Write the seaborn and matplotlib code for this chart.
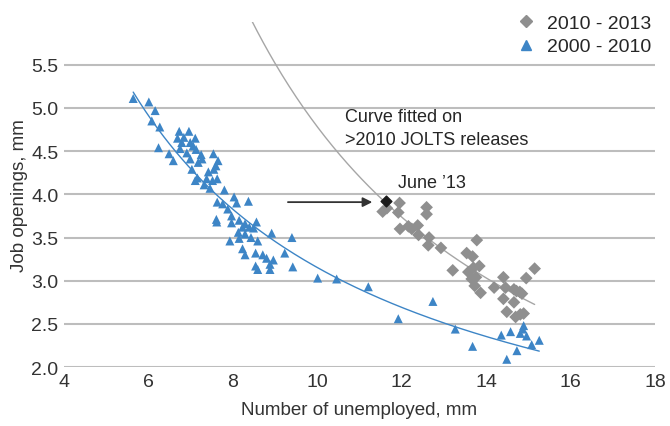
import numpy as np
import pandas as pd
import seaborn as sns
import matplotlib.pyplot as plt
from matplotlib.lines import Line2D

# Dados (desemprego x vagas, milhões)
blue_x = [5.64, 6.01, 6.16, 6.08, 6.27, 6.24, 6.49, 6.59, 6.73, 6.96, 6.69, 6.84, 7.11, 6.79,
          6.99, 7.06, 6.75, 6.91, 7.13, 6.99, 7.25, 7.27, 7.18, 7.54, 7.65, 7.60, 7.55, 7.42,
          7.03, 7.16, 7.11, 7.38, 7.52, 7.63, 7.32, 7.46, 7.80, 8.03, 7.63, 7.76, 8.09, 8.37,
          7.88, 7.97, 7.62, 7.61, 8.15, 7.97, 8.29, 8.56, 8.23, 8.39, 8.49, 8.13, 8.29, 8.15,
          8.43, 8.59, 8.92, 9.40, 7.93, 8.23, 8.29, 8.54, 8.71, 8.80, 8.96, 8.88, 9.23, 8.54,
          8.59, 8.88, 9.42, 10.01, 10.46, 11.21, 11.92, 12.74, 13.27, 13.68, 14.36, 14.49,
          14.58, 14.73, 14.81, 14.89, 14.87, 14.96, 15.08, 15.26]
blue_y = [5.11, 5.07, 4.97, 4.85, 4.78, 4.54, 4.47, 4.39, 4.73, 4.73, 4.65, 4.66, 4.65, 4.60,
          4.60, 4.56, 4.53, 4.48, 4.52, 4.41, 4.46, 4.41, 4.37, 4.47, 4.39, 4.33, 4.29, 4.26,
          4.29, 4.19, 4.16, 4.18, 4.16, 4.18, 4.11, 4.07, 4.05, 3.97, 3.91, 3.89, 3.90, 3.92,
          3.83, 3.75, 3.68, 3.71, 3.70, 3.67, 3.66, 3.68, 3.62, 3.62, 3.61, 3.56, 3.54, 3.49,
          3.50, 3.46, 3.55, 3.50, 3.46, 3.37, 3.30, 3.32, 3.30, 3.26, 3.24, 3.19, 3.32, 3.17,
          3.13, 3.13, 3.16, 3.03, 3.02, 2.93, 2.56, 2.76, 2.44, 2.24, 2.37, 2.09,
          2.41, 2.19, 2.39, 2.48, 2.44, 2.36, 2.26, 2.31]

gray_x = [11.95, 11.55, 11.65, 11.92, 11.96, 12.16, 12.24, 12.38, 12.40, 12.59, 12.59, 12.65,
          12.63, 12.93, 13.21, 13.54, 13.68, 13.78, 13.58, 13.84, 13.70, 13.66, 13.76, 13.73,
          13.87, 14.19, 14.41, 14.46, 14.41, 14.66, 14.72, 14.80, 14.85, 14.66, 14.49, 14.70,
          14.81, 14.89, 14.95, 15.15]
gray_y = [3.90, 3.80, 3.84, 3.79, 3.60, 3.63, 3.60, 3.64, 3.53, 3.85, 3.77, 3.50,
          3.41, 3.38, 3.12, 3.32, 3.28, 3.47, 3.10, 3.17, 3.15, 3.02, 3.04, 2.94,
          2.86, 2.92, 3.04, 2.92, 2.79, 2.90, 2.88, 2.87, 2.85, 2.75, 2.64, 2.58,
          2.61, 2.62, 3.03, 3.14]

june13_x = [11.63]
june13_y = [3.92]

periodos = ["2010 - 2013", "2000 - 2010"]
cores = {"2010 - 2013": "#8F8F8F", "2000 - 2010": "#3D85C6"}

df = pd.DataFrame({
    "x": blue_x + gray_x,
    "y": blue_y + gray_y,
    "periodo": ["2000 - 2010"] * len(blue_x) + ["2010 - 2013"] * len(gray_x),
})

sns.set_style("white")
plt.rcParams["font.family"] = ["Liberation Sans", "DejaVu Sans"]

fig = plt.figure(figsize=(6.7, 4.27), dpi=100)
ax = fig.add_axes([0.0955, 0.138, 0.882, 0.809])

ax.set_ylim(2.0, 6.0)
ax.set_xlim(4, 18)
ax.set_yticks([2.0, 2.5, 3.0, 3.5, 4.0, 4.5, 5.0, 5.5])
ax.set_xticks(range(4, 19, 2))
ax.yaxis.grid(True, color="#BDBDBD", linewidth=1.5)
ax.set_axisbelow(True)
for s in ax.spines.values():
    s.set_visible(False)

sns.scatterplot(data=df, x="x", y="y", hue="periodo", style="periodo", hue_order=periodos,
                style_order=periodos, markers={"2010 - 2013": "D", "2000 - 2010": "^"},
                palette=cores, s=42, linewidth=0, ax=ax, legend=False, zorder=3)
ax.scatter(june13_x, june13_y, marker="D", s=30, color="#1A1A1A", zorder=4)

# Curvas de potência (ajuste log-log)
bb, ba = np.polyfit(np.log(blue_x), np.log(blue_y), 1)
xb = np.linspace(min(blue_x), max(blue_x), 200)
ax.plot(xb, np.exp(ba) * xb ** bb, color="#3D85C6", lw=1, zorder=2)

gb, ga = np.polyfit(np.log(gray_x), np.log(gray_y), 1)
xg = np.linspace(8.3, max(gray_x), 200)
ax.plot(xg, np.exp(ga) * xg ** gb, color="#A6A6A6", lw=1, zorder=2)

ax.text(10.66, 4.9, "Curve fitted on", fontsize=13, color="#262626", va="center")
ax.text(10.66, 4.64, ">2010 JOLTS releases", fontsize=13, color="#262626", va="center")
ax.text(11.91, 4.14, "June \u201913", fontsize=13, color="#262626", va="center")
ax.annotate("", xy=(11.37, 3.91), xytext=(9.24, 3.91),
            arrowprops=dict(arrowstyle="-|>", color="#333333", lw=1.3, mutation_scale=14))

ax.tick_params(axis="both", labelsize=14, colors="#333333", length=0, pad=4)
ax.set_xlabel("Number of unemployed, mm", fontsize=13.5, color="#333333", labelpad=8)
ax.set_ylabel("Job openings, mm", fontsize=13.5, color="#333333", labelpad=2)

# Legenda
handles = [Line2D([], [], marker="D", ls="", color=cores["2010 - 2013"], markersize=6),
           Line2D([], [], marker="^", ls="", color=cores["2000 - 2010"], markersize=7)]
fig.legend(handles, periodos, loc="upper right", bbox_to_anchor=(0.998, 1.005), frameon=False,
           fontsize=14, handletextpad=0.5, labelspacing=0.3, handlelength=1.2,
           labelcolor="#262626")

plt.savefig("out.png", dpi=100)
